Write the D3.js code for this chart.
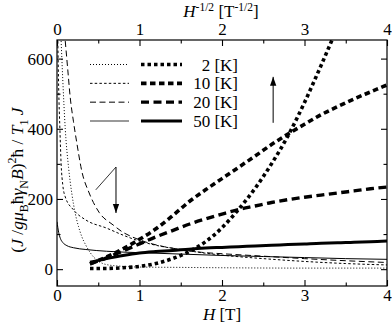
<!DOCTYPE html>
<html>
<head>
<meta charset="utf-8">
<style>
    body { margin: 0; background: #fff; }
    svg text { font-family: "Liberation Serif", "Times New Roman", Times, serif; fill: #000; }
</style>
</head>
<body>
<script src="https://cdn.jsdelivr.net/npm/d3@7/dist/d3.min.js"></script>
<script>
    // legend labels
    var temps = ["2 [K]", "10 [K]", "20 [K]", "50 [K]"];

    // thick curves, plotted against H [T] (bottom axis)
    var hGrid = [0.4, 0.6, 0.8, 1.0, 1.2, 1.4, 1.6, 1.8, 2.0, 2.2, 2.4, 2.6, 2.8, 3.0, 3.2, 3.4, 3.6, 3.8, 4.0];
    var thick2 = [2, 2, 4, 8, 16, 30, 50, 78, 118, 170, 230, 300, 380, 475, 580, 690];
    var thick10 = [15, 35, 58, 85, 115, 152, 192, 226, 258, 290, 322, 355, 385, 413, 440, 463, 485, 505, 525];
    var thick20 = [15, 32, 52, 72, 92, 110, 128, 143, 157, 170, 180, 190, 198, 205, 211, 217, 223, 229, 234];
    var thick50 = [20, 30, 39, 46, 50, 53, 57, 60, 62, 64, 66, 68, 70, 72, 74, 75, 77, 78, 80];

    // thin curves, plotted against H^-1/2 (top axis)
    var thin2u = [0.05, 0.07, 0.1, 0.14, 0.18, 0.22, 0.26, 0.3, 0.35, 0.4, 0.45, 0.5, 0.6, 0.8, 1, 1.5, 2, 3, 4];
    var thin2v = [650, 540, 400, 290, 215, 160, 122, 93, 68, 48, 33, 23, 13, 8, 6, 5, 4, 3, 3];
    var thin10u = [0.01, 0.02, 0.035, 0.05, 0.07, 0.1, 0.2, 0.35, 0.6, 0.8, 0.96, 1.2, 1.5, 1.75, 2, 2.5, 3, 3.5, 4];
    var thin10v = [650, 520, 400, 300, 240, 206, 169, 140, 117, 97, 83, 68, 56, 47, 40, 30, 22, 16, 12];
    var thin20u = [0.1, 0.13, 0.16, 0.2, 0.24, 0.3, 0.39, 0.51, 0.68, 0.8, 0.92, 1.08, 1.3, 1.5, 1.75, 2, 2.5, 3, 3.5, 4];
    var thin20v = [650, 570, 490, 420, 360, 280, 217, 162, 126, 105, 91, 77, 64, 56, 48, 44, 37, 30, 24, 19];
    var thin50u = [0, 0.02, 0.04, 0.07, 0.12, 0.2, 0.35, 0.6, 1, 1.5, 2, 2.5, 3, 3.5, 4];
    var thin50v = [135, 105, 88, 76, 67, 61, 56, 51, 47, 43, 39, 36, 33, 30, 28];

    var xTicks = [0, 1, 2, 3, 4];
    var xMinor = [0.5, 1.5, 2.5, 3.5];
    var yTicks = [0, 200, 400, 600];
    var yMinor = [100, 300, 500];

    var width = 392, height = 326;
    var plotLeft = 57, plotRight = 387, plotTop = 40, plotBottom = 286;
    var serif = "'Liberation Serif', 'Times New Roman', Times, serif";

    var x = d3.scaleLinear().domain([0, 4]).range([plotLeft, plotRight]);
    var xTop = d3.scaleLinear().domain([0, 4]).range([plotLeft, plotRight]);
    var y = d3.scaleLinear().domain([-48, 653]).range([plotBottom, plotTop]);

    var svg = d3.select("body").append("svg")
        .attr("width", width)
        .attr("height", height)
        .attr("font-family", serif);

    var defs = svg.append("defs");
    defs.append("clipPath").attr("id", "plot")
        .append("rect")
        .attr("x", plotLeft).attr("y", plotTop)
        .attr("width", plotRight - plotLeft).attr("height", plotBottom - plotTop);

    defs.append("marker")
        .attr("id", "head")
        .attr("viewBox", "0 0 10 10")
        .attr("refX", 10).attr("refY", 5)
        .attr("markerWidth", 9).attr("markerHeight", 9)
        .attr("markerUnits", "userSpaceOnUse")
        .attr("orient", "auto")
        .append("path")
        .attr("d", "M0,1.5L10,5L0,8.5Z")
        .attr("fill", "#000");

    // line styles per temperature: thin and thick
    var styles = [
        { thin: { w: 1, dash: "1,2" }, thick: { w: 3.6, dash: "3.5,3" } },
        { thin: { w: 1, dash: "2.5,2.2" }, thick: { w: 3.6, dash: "5.5,3.5" } },
        { thin: { w: 1, dash: "6,3.5" }, thick: { w: 3.4, dash: "8,4.5" } },
        { thin: { w: 1, dash: null }, thick: { w: 3, dash: null } }
    ];

    var thickData = [thick2, thick10, thick20, thick50].map(function (vals) {
        return vals.map(function (v, i) { return [hGrid[i], v]; });
    });
    var thinData = [[thin2u, thin2v], [thin10u, thin10v], [thin20u, thin20v], [thin50u, thin50v]].map(function (p) {
        return p[0].map(function (u, i) { return [u, p[1][i]]; });
    });

    var lineH = d3.line().x(function (d) { return x(d[0]); }).y(function (d) { return y(d[1]); }).curve(d3.curveMonotoneX);
    var lineU = d3.line().x(function (d) { return xTop(d[0]); }).y(function (d) { return y(d[1]); }).curve(d3.curveMonotoneX);

    var plot = svg.append("g").attr("clip-path", "url(#plot)");

    thinData.forEach(function (d, i) {
        plot.append("path")
            .attr("d", lineU(d))
            .attr("fill", "none")
            .attr("stroke", "#000")
            .attr("stroke-width", styles[i].thin.w)
            .attr("stroke-dasharray", styles[i].thin.dash);
    });
    thickData.forEach(function (d, i) {
        plot.append("path")
            .attr("d", lineH(d))
            .attr("fill", "none")
            .attr("stroke", "#000")
            .attr("stroke-width", styles[i].thick.w)
            .attr("stroke-dasharray", styles[i].thick.dash);
    });

    // axes, ticks pointing inward
    function styleAxis(g) {
        g.attr("font-family", serif).attr("font-size", 17);
        g.select(".domain").remove();
        g.selectAll(".tick line").attr("stroke", "#000").attr("stroke-width", 1.1);
        g.selectAll("text").attr("fill", "#000");
    }
    svg.append("g").attr("transform", "translate(0," + plotBottom + ")")
        .call(d3.axisBottom(x).tickValues(xTicks).tickFormat(d3.format("d")).tickSize(-6).tickPadding(3))
        .call(styleAxis);
    svg.append("g").attr("transform", "translate(0," + plotBottom + ")")
        .call(d3.axisBottom(x).tickValues(xMinor).tickFormat("").tickSize(-3.5))
        .call(styleAxis);
    svg.append("g").attr("transform", "translate(0," + plotTop + ")")
        .call(d3.axisTop(xTop).tickValues(xTicks).tickFormat(d3.format("d")).tickSize(-6).tickPadding(5))
        .call(styleAxis);
    svg.append("g").attr("transform", "translate(0," + plotTop + ")")
        .call(d3.axisTop(xTop).tickValues(xMinor).tickFormat("").tickSize(-3.5))
        .call(styleAxis);
    svg.append("g").attr("transform", "translate(" + plotLeft + ",0)")
        .call(d3.axisLeft(y).tickValues(yTicks).tickSize(-6).tickPadding(4))
        .call(styleAxis);
    svg.append("g").attr("transform", "translate(" + plotLeft + ",0)")
        .call(d3.axisLeft(y).tickValues(yMinor).tickFormat("").tickSize(-3.5))
        .call(styleAxis);
    svg.append("g").attr("transform", "translate(" + plotRight + ",0)")
        .call(d3.axisRight(y).tickValues(yTicks).tickFormat("").tickSize(-6))
        .call(styleAxis);
    svg.append("g").attr("transform", "translate(" + plotRight + ",0)")
        .call(d3.axisRight(y).tickValues(yMinor).tickFormat("").tickSize(-3.5))
        .call(styleAxis);

    svg.append("rect")
        .attr("x", plotLeft).attr("y", plotTop)
        .attr("width", plotRight - plotLeft).attr("height", plotBottom - plotTop)
        .attr("fill", "none").attr("stroke", "#000").attr("stroke-width", 1.2);

    // rich text helper: parts of [text, italic, shift] with shift "sub"/"sup"
    function rich(t, parts, size) {
        var cur = 0;
        parts.forEach(function (p) {
            var shift = p[2] === "sub" ? size * 0.28 : p[2] === "sup" ? -size * 0.38 : 0;
            t.append("tspan")
                .attr("dy", shift - cur)
                .style("font-size", (p[2] ? size * 0.68 : size) + "px")
                .style("font-style", p[1] ? "italic" : "normal")
                .text(p[0]);
            cur = shift;
        });
    }

    rich(svg.append("text").attr("x", 222).attr("y", 320).attr("text-anchor", "middle"),
        [["H", true], [" [T]", false]], 17);
    rich(svg.append("text").attr("x", 221).attr("y", 17).attr("text-anchor", "middle"),
        [["H", true], ["-1/2", false, "sup"], [" [T", false], ["-1/2", false, "sup"], ["]", false]], 17);
    rich(svg.append("text").attr("transform", "translate(23,180) rotate(-90)").attr("text-anchor", "middle"),
        [["(", false], ["J", true], [" /", false], ["g", true], ["\u03bc", true], ["B", false, "sub"],
         ["\u0127", false], ["\u03b3", true], ["N", false, "sub"], ["B", true], [")", false], ["2", false, "sup"],
         ["\u0127", false], [" / ", false], ["T", true], ["1", false, "sub"], [" J", true]], 17.5);

    // legend
    var legendY = d3.scalePoint().domain(temps).range([64.5, 121]);
    temps.forEach(function (t, i) {
        var ly = legendY(t);
        svg.append("line").attr("x1", 90).attr("x2", 129).attr("y1", ly).attr("y2", ly)
            .attr("stroke", i === 3 ? "#777" : "#000")
            .attr("stroke-width", i === 3 ? 1.6 : styles[i].thin.w)
            .attr("stroke-dasharray", styles[i].thin.dash);
        svg.append("line").attr("x1", 141).attr("x2", 182).attr("y1", ly).attr("y2", ly)
            .attr("stroke", "#000")
            .attr("stroke-width", styles[i].thick.w)
            .attr("stroke-dasharray", styles[i].thick.dash);
        svg.append("text").attr("x", 238).attr("y", ly + 6)
            .attr("text-anchor", "end")
            .style("font-size", "17px")
            .text(t);
    });

    // arrows
    svg.append("line")
        .attr("x1", x(2.62)).attr("y1", y(417))
        .attr("x2", x(2.62)).attr("y2", y(548))
        .attr("stroke", "#000").attr("stroke-width", 1)
        .attr("marker-end", "url(#head)");
    svg.append("line")
        .attr("x1", x(0.47)).attr("y1", y(226))
        .attr("x2", x(0.715)).attr("y2", y(291))
        .attr("stroke", "#000").attr("stroke-width", 0.8);
    svg.append("line")
        .attr("x1", x(0.715)).attr("y1", y(291))
        .attr("x2", x(0.715)).attr("y2", y(160))
        .attr("stroke", "#000").attr("stroke-width", 1)
        .attr("marker-end", "url(#head)");
</script>
</body>
</html>
